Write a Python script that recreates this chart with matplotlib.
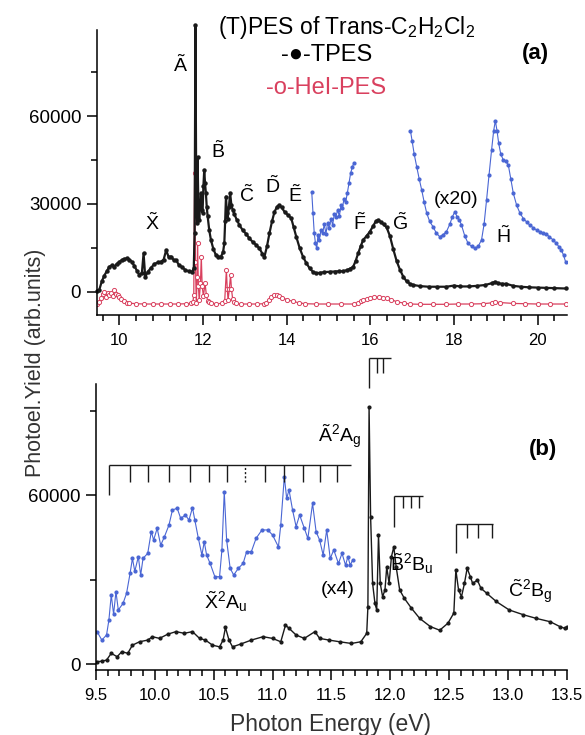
import matplotlib
matplotlib.use("Agg")
import matplotlib.pyplot as plt
from matplotlib.ticker import MultipleLocator, FormatStrFormatter

plt.rcParams['font.family'] = ['Liberation Sans', 'DejaVu Sans']
plt.rcParams['mathtext.fontset'] = 'custom'
plt.rcParams['mathtext.rm'] = 'Liberation Sans'
plt.rcParams['mathtext.it'] = 'Liberation Sans:italic'
plt.rcParams['mathtext.bf'] = 'Liberation Sans:bold'

# ---- panel (a): TPES (black), HeI-PES (red), TPES x20 (blue) ----
a_tpes_e = [9.47, 9.52, 9.58, 9.64, 9.70, 9.76, 9.82, 9.88, 9.94, 10.00, 10.06, 10.12,
            10.18, 10.24, 10.30, 10.36, 10.42, 10.48, 10.54, 10.58, 10.62, 10.68, 10.76,
            10.84, 10.92, 11.00, 11.06, 11.12, 11.18, 11.24, 11.30, 11.36, 11.42, 11.50,
            11.58, 11.66, 11.74, 11.78, 11.80, 11.82, 11.84, 11.86, 11.87, 11.89, 11.91,
            11.93, 11.95, 11.97, 11.99, 12.01, 12.03, 12.05, 12.07, 12.09, 12.11, 12.15,
            12.19, 12.25, 12.31, 12.37, 12.43, 12.48, 12.51, 12.53, 12.55, 12.57, 12.59,
            12.62, 12.65, 12.68, 12.71, 12.75, 12.81, 12.87, 12.95, 13.03, 13.11, 13.19,
            13.27, 13.35, 13.42, 13.47, 13.53, 13.59, 13.65, 13.71, 13.77, 13.82, 13.88,
            13.95, 14.03, 14.11, 14.17, 14.23, 14.31, 14.39, 14.47, 14.55, 14.63, 14.71,
            14.80, 14.90, 15.03, 15.15, 15.25, 15.35, 15.45, 15.52, 15.59, 15.65, 15.71,
            15.77, 15.83, 15.91, 15.99, 16.07, 16.13, 16.19, 16.25, 16.32, 16.39, 16.47,
            16.55, 16.63, 16.71, 16.79, 16.87, 16.95, 17.03, 17.20, 17.40, 17.60, 17.82,
            18.00, 18.15, 18.35, 18.55, 18.75, 18.90, 18.98, 19.06, 19.15, 19.25, 19.42,
            19.60, 19.80, 20.00, 20.20, 20.40, 20.67]
a_tpes_y = [300, 600, 3500, 5500, 7000, 8500, 9000, 8600, 9500, 10200, 10800, 11200,
            11400, 11000, 10200, 8800, 7200, 5700, 6500, 13100, 5000, 6800, 8200,
            9500, 10000, 10300, 11000, 14200, 11800, 12000, 10800, 10800, 9200, 8400,
            7400, 7000, 6800, 8000, 20000, 91000, 30000, 23500, 46000, 30000, 24500,
            29000, 33600, 28000, 27000, 36000, 41600, 37000, 33600, 29000, 26000, 21000,
            17700, 14500, 12500, 12000, 12000, 13500, 16500, 24000, 32500, 27000, 25000,
            29000, 33600, 29500, 28000, 26500, 24500, 22800, 21000, 19800, 18200, 17000,
            16000, 14800, 13000, 12000, 15500, 20000, 24000, 27300, 29000, 29600, 28800,
            27300, 26200, 25100, 22000, 18800, 15000, 12000, 9800, 8000, 6800, 6300,
            6500, 6700, 6800, 6900, 7000, 7000, 7400, 7900, 8500, 10500, 13100,
            15500, 17700, 19000, 20500, 22500, 24000, 24500, 23800, 23000, 22000, 19000,
            14500, 10500, 7500, 5100, 3500, 2700, 2300, 1900, 1700, 1700, 1700,
            2100, 1800, 1800, 2000, 2300, 2900, 3400, 2900, 2700, 2700, 2000,
            1700, 1500, 1400, 1300, 1200, 1100]

a_hei_e = [9.47, 9.52, 9.56, 9.60, 9.64, 9.68, 9.72, 9.76, 9.80, 9.84, 9.88, 9.92, 9.96,
           10.00, 10.04, 10.10, 10.18, 10.24, 10.40, 10.60, 10.80, 11.00, 11.20, 11.40,
           11.60, 11.72, 11.76, 11.78, 11.80, 11.82, 11.84, 11.86, 11.87, 11.89, 11.91,
           11.94, 11.96, 11.98, 12.01, 12.05, 12.08, 12.11, 12.15, 12.19, 12.30, 12.45,
           12.52, 12.56, 12.58, 12.60, 12.63, 12.66, 12.68, 12.71, 12.75, 12.79, 12.90,
           13.10, 13.30, 13.45, 13.51, 13.57, 13.63, 13.70, 13.76, 13.82, 13.90, 14.00,
           14.15, 14.30, 14.45, 14.70, 15.00, 15.30, 15.60, 15.71, 15.77, 15.83, 15.92,
           16.00, 16.10, 16.20, 16.30, 16.40, 16.50, 16.63, 16.80, 16.95, 17.20, 17.50,
           17.80, 18.10, 18.40, 18.70, 18.90, 18.98, 19.10, 19.42, 19.70, 20.00, 20.30,
           20.67]
a_hei_y = [-4300, -3400, -2000, -800, 0, -1800, -600, -1100, -300, -1500, 600, -700, -1000,
           -1800, -2500, -3200, -3700, -3900, -4100, -4200, -4200, -4200, -4200, -4200,
           -4100, -4000, -3500, -1000, 40500, 10000, -4000, 5000, 16500, 2000, -2800,
           3000, 12000, 2000, -1500, 2900, -1000, -3000, -3500, -3800, -4100, -4000,
           -3000, 7400, 1000, -2800, 1000, 5700, 1000, -2500, -3500, -4000, -4200,
           -4200, -4200, -4100, -3800, -2800, -1800, -1100, -1000, -1400, -2000, -2700,
           -3300, -3800, -4100, -4200, -4200, -4200, -4200, -4000, -3200, -2800, -2400,
           -2200, -1900, -1800, -2000, -2300, -2700, -3400, -3900, -4200, -4300, -4300,
           -4300, -4200, -4200, -4100, -3800, -3500, -3700, -4000, -4100, -4200, -4200,
           -4200]

a_x20_e1 = [14.60, 14.63, 14.66, 14.69, 14.72, 14.75, 14.78, 14.82, 14.86, 14.90, 14.94,
            14.98, 15.02, 15.06, 15.10, 15.14, 15.18, 15.22, 15.26, 15.30, 15.33, 15.37,
            15.41, 15.45, 15.49, 15.53, 15.57, 15.61]
a_x20_y1 = [34200, 27000, 20000, 16500, 14800, 19500, 17500, 21000, 20000, 23000, 19800,
            23500, 21700, 25000, 22800, 26500, 25600, 28000, 25800, 29500, 28500, 31500,
            30500, 33600, 37000, 40500, 42500, 44100]
a_x20_e2 = [16.96, 17.00, 17.05, 17.11, 17.17, 17.23, 17.29, 17.35, 17.42, 17.50, 17.58,
            17.66, 17.74, 17.82, 17.90, 17.96, 18.02, 18.08, 18.13, 18.18, 18.26, 18.34,
            18.42, 18.50, 18.58, 18.66, 18.72, 18.78, 18.84, 18.90, 18.95, 18.99, 19.03,
            19.07, 19.12, 19.18, 19.24, 19.30, 19.36, 19.42, 19.50, 19.58, 19.66, 19.74,
            19.81, 19.90, 19.98, 20.06, 20.13, 20.20, 20.28, 20.37, 20.45, 20.52, 20.57,
            20.62, 20.67]
a_x20_y2 = [55000, 51500, 47000, 42700, 38500, 34700, 30500, 26800, 24000, 22200, 20000,
            18800, 19500, 20500, 23000, 25500, 27300, 25500, 24500, 22800, 19000, 16500,
            15500, 14800, 15500, 17700, 23000, 31300, 40000, 48400, 55000, 58400, 55000,
            50700, 47000, 45000, 44500, 43300, 38500, 33600, 29500, 26800, 25000, 23800,
            22800, 21800, 21000, 20500, 20000, 19800, 18800, 17700, 16500, 15200, 14200,
            12500, 10200]

a_labels = [r'$\tilde{\mathrm{A}}$', r'$\tilde{\mathrm{X}}$', r'$\tilde{\mathrm{B}}$',
            r'$\tilde{\mathrm{C}}$', r'$\tilde{\mathrm{D}}$', r'$\tilde{\mathrm{E}}$',
            r'$\tilde{\mathrm{F}}$', r'$\tilde{\mathrm{G}}$', r'$\tilde{\mathrm{H}}$', '(x20)']
a_label_e = [11.47, 10.78, 12.35, 13.04, 13.66, 14.20, 15.74, 16.71, 19.18, 18.05]
a_label_y = [77500, 23500, 48000, 33000, 36000, 33000, 23500, 23500, 19000, 31500]

# ---- panel (b): TPES (black) and TPES x4 (blue) ----
b_tpes_e = [9.506, 9.55, 9.59, 9.63, 9.68, 9.72, 9.77, 9.81, 9.87, 9.94, 9.98, 10.04,
            10.11, 10.18, 10.25, 10.32, 10.38, 10.43, 10.49, 10.55, 10.58, 10.60, 10.63,
            10.66, 10.73, 10.82, 10.92, 11.00, 11.07, 11.11, 11.14, 11.20, 11.27, 11.36,
            11.40, 11.48, 11.57, 11.67, 11.75, 11.80, 11.81, 11.82, 11.833, 11.85, 11.87,
            11.885, 11.90, 11.915, 11.935, 11.955, 11.97, 11.99, 12.01, 12.03, 12.05,
            12.08, 12.12, 12.18, 12.25, 12.34, 12.42, 12.49, 12.54, 12.557, 12.58,
            12.605, 12.63, 12.653, 12.68, 12.70, 12.74, 12.77, 12.82, 12.90, 13.01,
            13.13, 13.24, 13.36, 13.44, 13.48, 13.50]
b_tpes_y = [800, 1000, 1400, 3800, 2600, 4400, 3800, 6700, 7900, 8500, 9700, 9100,
            10600, 11500, 10900, 11500, 9100, 8500, 6700, 6100, 8500, 13000, 8500,
            6100, 7100, 8500, 9700, 9100, 7900, 13800, 12700, 10300, 9100, 11500,
            9100, 8500, 7900, 7300, 7900, 10900, 20300, 91300, 52300, 28600, 21500,
            19200, 45800, 28600, 23900, 26300, 34500, 28600, 38100, 41600, 34500,
            26300, 23300, 19800, 16200, 13300, 12000, 14500, 18100, 33400, 26300,
            23900, 28600, 34000, 31000, 28600, 29800, 26900, 25100, 22200, 19200,
            17500, 16200, 15000, 13300, 12700, 13200]

b_x4_e = [9.51, 9.55, 9.59, 9.61, 9.63, 9.65, 9.67, 9.69, 9.73, 9.76, 9.79, 9.81, 9.83,
          9.86, 9.88, 9.90, 9.94, 9.97, 9.99, 10.02, 10.05, 10.08, 10.12, 10.15, 10.19,
          10.22, 10.26, 10.29, 10.32, 10.34, 10.37, 10.40, 10.42, 10.44, 10.47, 10.51,
          10.55, 10.57, 10.59, 10.61, 10.64, 10.67, 10.71, 10.75, 10.78, 10.82, 10.86,
          10.91, 10.96, 11.00, 11.05, 11.07, 11.10, 11.12, 11.14, 11.17, 11.20, 11.23,
          11.27, 11.30, 11.34, 11.37, 11.40, 11.43, 11.46, 11.49, 11.52, 11.56, 11.59,
          11.62, 11.64, 11.66, 11.68]
b_x4_y = [11500, 8500, 10300, 15600, 24500, 17700, 25700, 19200, 21500, 25100, 32200,
          37500, 32900, 38100, 31600, 37500, 39300, 47000, 44000, 48200, 42200, 45000,
          49300, 54700, 55300, 51700, 52900, 51100, 55500, 51100, 44600, 38700, 43400,
          38700, 35700, 31000, 31000, 40500, 61200, 44000, 34000, 31600, 34000, 35700,
          39900, 39900, 44600, 47600, 47600, 45800, 41600, 49400, 66500, 58800, 61800,
          54700, 48800, 52900, 48200, 44600, 57000, 47000, 44000, 38700, 47600, 37500,
          40500, 35700, 39300, 35100, 38100, 35100, 36900]

# vibrational progressions (first line is the origin)
comb_x = [9.613, 9.789, 9.944, 10.122, 10.298, 10.462, 10.610, 10.766, 10.936, 11.097,
          11.256, 11.403, 11.550]
comb_a = [11.82, 11.884, 11.94]
comb_b = [12.033, 12.105, 12.175, 12.246]
comb_c = [12.557, 12.648, 12.747, 12.861]

b_labels = [r'$\tilde{\mathrm{A}}^2\mathrm{A}_\mathrm{g}$', r'$\tilde{\mathrm{B}}^2\mathrm{B}_\mathrm{u}$',
            r'$\tilde{\mathrm{C}}^2\mathrm{B}_\mathrm{g}$', r'$\tilde{\mathrm{X}}^2\mathrm{A}_\mathrm{u}$', '(x4)']
b_label_e = [11.57, 12.18, 13.19, 10.60, 11.55]
b_label_y = [81000, 35500, 26000, 22000, 26300]

black = '#1a1a1a'
red = '#d9405e'
blue = '#4a66d4'

fig = plt.figure(figsize=(5.85, 7.35), dpi=100)
ax1 = fig.add_axes([0.165, 0.5714, 0.804, 0.3878])
ax2 = fig.add_axes([0.164, 0.0884, 0.805, 0.3891])

ax1.plot(a_hei_e, a_hei_y, '-', color=red, lw=0.9, marker='o', ms=3, mfc='white', mec=red, mew=0.7)
ax1.plot(a_tpes_e, a_tpes_y, '-', color=black, lw=1.6, marker='o', ms=2.2, clip_on=False)
ax1.plot(a_x20_e1, a_x20_y1, '-', color=blue, lw=0.8, marker='o', ms=2)
ax1.plot(a_x20_e2, a_x20_y2, '-', color=blue, lw=0.8, marker='o', ms=2)
for lab, e, y in zip(a_labels, a_label_e, a_label_y):
    ax1.text(e, y, lab, fontsize=14, ha='center', va='center')

ax1.set_xlim(9.455, 20.70)
ax1.set_ylim(-7960, 89400)
ax1.xaxis.set_major_locator(MultipleLocator(2))
ax1.xaxis.set_minor_locator(MultipleLocator(0.4))
ax1.yaxis.set_major_locator(MultipleLocator(30000))
ax1.yaxis.set_minor_locator(MultipleLocator(15000))

ax2.plot(b_x4_e, b_x4_y, '-', color=blue, lw=0.8, marker='o', ms=2)
ax2.plot(b_tpes_e, b_tpes_y, '-', color=black, lw=1.0, marker='o', ms=2)

# combs
ax2.hlines(70600, comb_x[0], 11.663, color=black, lw=1)
ax2.vlines(comb_x[0], 60000, 70600, color=black, lw=1)
ax2.vlines(comb_x[1:7] + comb_x[8:], 64700, 70600, color=black, lw=1)
ax2.vlines(comb_x[7], 64700, 70600, color=black, lw=1, linestyles=(0, (1.5, 1.5)))
ax2.hlines(108500, comb_a[0], 12.01, color=black, lw=1, clip_on=False)
ax2.vlines(comb_a[0], 97900, 108500, color=black, lw=1, clip_on=False)
ax2.vlines(comb_a[1:], 103200, 108500, color=black, lw=1, clip_on=False)
ax2.hlines(59700, comb_b[0], 12.28, color=black, lw=1)
ax2.vlines(comb_b[0], 48700, 59700, color=black, lw=1)
ax2.vlines(comb_b[1:], 55300, 59700, color=black, lw=1)
ax2.hlines(49700, comb_c[0], 12.87, color=black, lw=1)
ax2.vlines(comb_c[0], 39300, 49700, color=black, lw=1)
ax2.vlines(comb_c[1:], 44600, 49700, color=black, lw=1)

for lab, e, y in zip(b_labels, b_label_e, b_label_y):
    ax2.text(e, y, lab, fontsize=14, ha='center', va='center')

ax2.set_xlim(9.5, 13.5)
ax2.set_ylim(-2130, 99400)
ax2.xaxis.set_major_locator(MultipleLocator(0.5))
ax2.xaxis.set_minor_locator(MultipleLocator(0.1))
ax2.xaxis.set_major_formatter(FormatStrFormatter('%.1f'))
ax2.yaxis.set_major_locator(MultipleLocator(60000))
ax2.yaxis.set_minor_locator(MultipleLocator(30000))

for ax in (ax1, ax2):
    for s in ('top', 'right'):
        ax.spines[s].set_visible(False)
    for s in ('left', 'bottom'):
        ax.spines[s].set_linewidth(1.1)
    ax.tick_params(which='major', direction='out', length=7, width=1.1, pad=4)
    ax.tick_params(which='minor', direction='out', length=4, width=1.1)
    ax.tick_params(axis='y', labelsize=13.5)
    ax.tick_params(axis='x', labelsize=12, pad=6)

fig.text(0.5925, 0.962, r'(T)PES of Trans-C$_2$H$_2$Cl$_2$', fontsize=16.5, ha='center', va='center')
fig.text(0.558, 0.925, '-\u25CF-TPES', fontsize=17, ha='center', va='center')
fig.text(0.557, 0.880, '-o-HeI-PES', fontsize=17, ha='center', va='center', color=red)
fig.text(0.916, 0.927, '(a)', fontsize=16, fontweight='bold', ha='center', va='center')
fig.text(0.928, 0.389, '(b)', fontsize=16, fontweight='bold', ha='center', va='center')
fig.text(0.06, 0.506, 'Photoel.Yield (arb.units)', fontsize=15.5, rotation=90, ha='center', va='center',
         color='#333333')
fig.text(0.565, 0.006, 'Photon Energy (eV)', fontsize=16.5, ha='center', va='baseline', color='#333333')

fig.savefig('out.png', dpi=100)
